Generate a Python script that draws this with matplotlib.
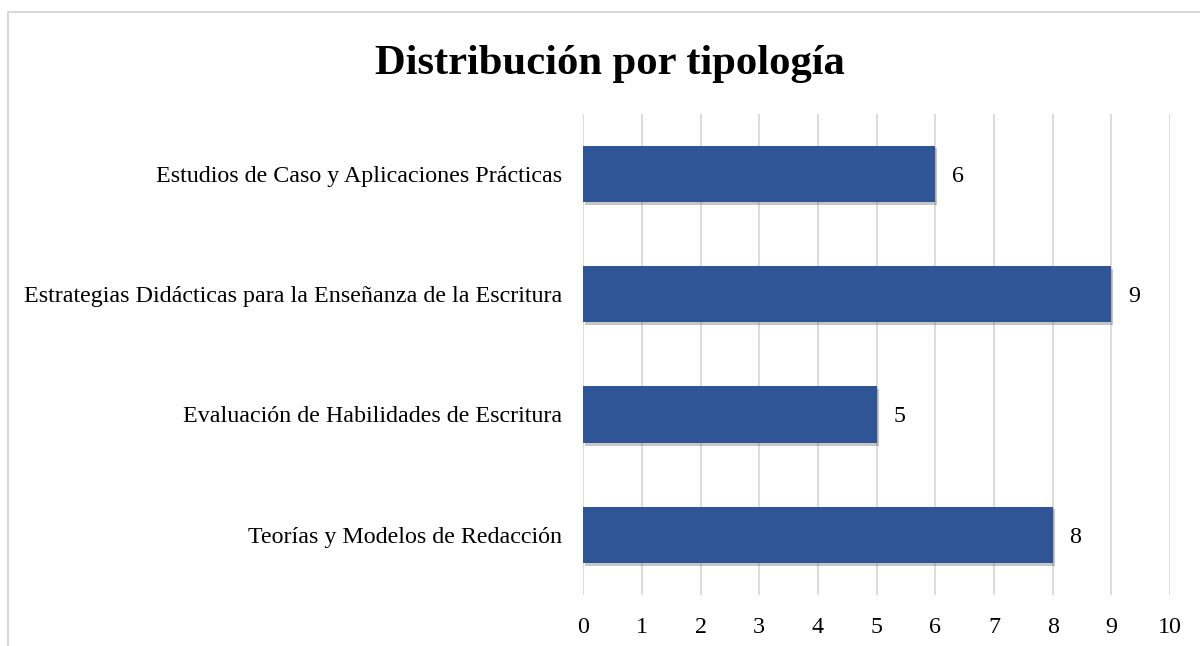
import matplotlib.pyplot as plt
import matplotlib.patheffects as pe
from matplotlib.patches import Rectangle

plt.rcParams['font.family'] = ['Liberation Serif', 'DejaVu Serif']

# data (bottom to top)
categories = ['Teorías y Modelos de Redacción',
              'Evaluación de Habilidades de Escritura',
              'Estrategias Didácticas para la Enseñanza de la Escritura',
              'Estudios de Caso y Aplicaciones Prácticas']
counts = [8, 5, 9, 6]
xticks = list(range(0, 11))

fig = plt.figure(figsize=(12, 6.46), dpi=100)
ax = fig.add_axes([0.486, 0.079, 0.489, 0.745])

bars = ax.barh(range(len(categories)), counts, height=0.47, color='#2F5597', zorder=3,
               path_effects=[pe.SimplePatchShadow(offset=(1.5, -2), alpha=0.3, shadow_rgbFace='#444444'),
                             pe.Normal()])

# value labels
for i, v in enumerate(counts):
    ax.annotate(str(v), (v, i), xytext=(12, 0), textcoords='offset points',
                va='center_baseline', ha='left', fontsize=17.3)

ax.set_xlim(0, 10)
ax.set_ylim(-0.5, 3.5)
ax.set_xticks(xticks)
ax.set_yticks(range(len(categories)))
ax.set_yticklabels(categories, va='center_baseline')
ax.tick_params(axis='both', length=0, labelsize=17.3)
ax.tick_params(axis='x', pad=16)
ax.tick_params(axis='y', pad=15)
ax.xaxis.grid(True, color='#D9D9D9', linewidth=1.3, zorder=0)
for s in ax.spines.values():
    s.set_visible(False)

fig.suptitle('Distribución por tipología', fontsize=30.7, fontweight='bold', x=0.508, y=0.93)

# light frame around the chart
fig.patches.append(Rectangle((8 / 1200, -0.05), 1.1, 1.05 - 12 / 646,
                             transform=fig.transFigure, fill=False,
                             edgecolor='#D9D9D9', linewidth=1.5))

fig.savefig('out.png', dpi=100)
